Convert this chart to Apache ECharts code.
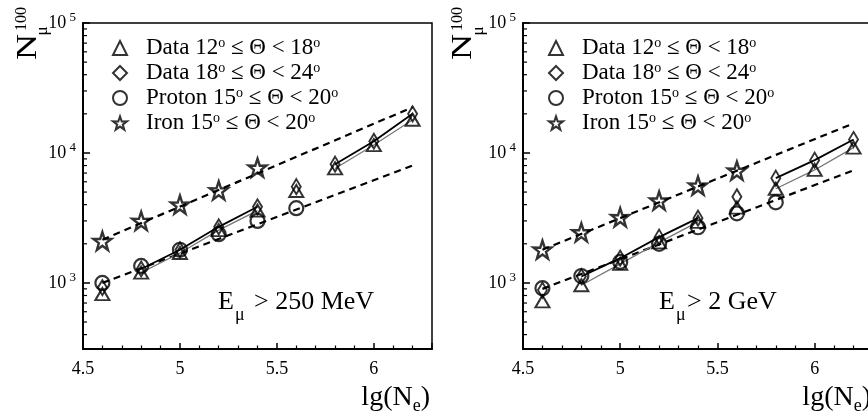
<!DOCTYPE html>
<html><head><meta charset="utf-8">
<script src="https://cdn.jsdelivr.net/npm/echarts@6/dist/echarts.min.js"></script>
<style>html,body{margin:0;padding:0;background:#fff}#c{width:868px;height:414px}</style>
</head><body><div id="c"></div>
<script>
// ---------- data ----------
const xValues = [4.6, 4.8, 5.0, 5.2, 5.4, 5.6, 5.8, 6.0, 6.2];
const lineSegments = [[4.8, 5.4], [5.8, 6.2]];
// Left panel: E_mu > 250 MeV
const data1218_L = [820, 1200, 1700, 2550, 3600, 5100, 7600, 11500, 18000];
const data1824_L = [920, 1280, 1800, 2700, 3850, 5500, 8200, 12300, 20000];
const protonX_L = [4.6, 4.8, 5.0, 5.2, 5.4, 5.6];
const proton_L = [1000, 1350, 1800, 2370, 3000, 3760];
const ironX_L = [4.6, 4.8, 5.0, 5.2, 5.4];
const iron_L = [2100, 3000, 4000, 5150, 7700];
const protonFitX_L = [4.6, 6.2], protonFit_L = [1000, 8000];
const ironFitX_L = [4.6, 6.2], ironFit_L = [2150, 22500];
// Right panel: E_mu > 2 GeV
const data1218_R = [720, 960, 1400, 2050, 2950, 3800, 5300, 7400, 11000];
const data1824_R = [880, 1120, 1550, 2250, 3150, 4600, 6400, 8800, 12700];
const protonX_R = [4.6, 4.8, 5.0, 5.2, 5.4, 5.6, 5.8];
const proton_R = [910, 1130, 1450, 2000, 2680, 3430, 4170];
const ironX_R = [4.6, 4.8, 5.0, 5.2, 5.4, 5.6];
const iron_R = [1800, 2450, 3200, 4300, 5600, 7300];
const protonFitX_R = [4.6, 6.2], protonFit_R = [900, 7350];
const ironFitX_R = [4.6, 6.2], ironFit_R = [1800, 16900];

const seriesNames = ['Data 12° ≤ Θ < 18°', 'Data 18° ≤ Θ < 24°', 'Proton 15° ≤ Θ < 20°', 'Iron 15° ≤ Θ < 20°'];
const xTickLabels = ['4.5', '5', '5.5', '6'];
const yMinorTicks = [400, 500, 600, 700, 800, 900, 2000, 3000, 4000, 5000, 6000, 7000, 8000, 9000,
  20000, 30000, 40000, 50000, 60000, 70000, 80000, 90000];
const energyLabels = ['> 250 MeV', '> 2 GeV'];

// ---------- chart ----------
const FONT = 'Liberation Serif';
const X_MIN = 4.5, X_MAX = 6.3, Y_MIN = 310, Y_MAX = 100000;
const STAR = 'path://M50,0 L61.8,35.1 L97.6,34.5 L68.7,56 L79.4,90.5 L50,69.5 L20.6,90.5 L31.3,56 L2.4,34.5 L38.2,35.1 Z';
const hollow = w => ({ color: 'rgba(255,255,255,0)', borderColor: '#000', borderWidth: w });

const panels = [
  { d1218: data1218_L, d1824: data1824_L, pX: protonX_L, p: proton_L, iX: ironX_L, ir: iron_L,
    pfX: protonFitX_L, pf: protonFit_L, ifX: ironFitX_L, iff: ironFit_L },
  { d1218: data1218_R, d1824: data1824_R, pX: protonX_R, p: proton_R, iX: ironX_R, ir: iron_R,
    pfX: protonFitX_R, pf: protonFit_R, ifX: ironFitX_R, iff: ironFit_R }
];
const inSeg = x => lineSegments.some(s => x >= s[0] - 1e-9 && x <= s[1] + 1e-9);
const pairs = (xs, ys) => xs.map((x, k) => [x, ys[k]]);
const segData = ys => xValues.map((x, k) => [x, inSeg(x) ? ys[k] : '-']);

const series = [];
panels.forEach((P, i) => {
  const ax = { xAxisIndex: i, yAxisIndex: i };
  [[P.pfX, P.pf], [P.ifX, P.iff]].forEach(([xs, ys]) => series.push(Object.assign({
    type: 'line', data: pairs(xs, ys), symbol: 'none', silent: true, z: 2,
    lineStyle: { color: '#000', width: 2.2, type: [7, 5] }
  }, ax)));
  series.push(Object.assign({ type: 'line', data: segData(P.d1218), symbol: 'none', silent: true, z: 3,
    connectNulls: false, lineStyle: { color: '#777', width: 1.3 } }, ax));
  series.push(Object.assign({ type: 'line', data: segData(P.d1824), symbol: 'none', silent: true, z: 3,
    connectNulls: false, lineStyle: { color: '#000', width: 1.8 } }, ax));
  series.push(Object.assign({ name: seriesNames[0], type: 'scatter', data: pairs(xValues, P.d1218),
    symbol: 'triangle', symbolSize: [14, 12], itemStyle: hollow(2), z: 4 }, ax));
  series.push(Object.assign({ name: seriesNames[1], type: 'scatter', data: pairs(xValues, P.d1824),
    symbol: 'diamond', symbolSize: [9, 15], itemStyle: hollow(2), z: 4 }, ax));
  series.push(Object.assign({ name: seriesNames[2], type: 'scatter', data: pairs(P.pX, P.p),
    symbol: 'circle', symbolSize: 14, itemStyle: hollow(2.2), z: 4 }, ax));
  series.push(Object.assign({ name: seriesNames[3], type: 'scatter', data: pairs(P.iX, P.ir),
    symbol: STAR, symbolSize: 18, itemStyle: hollow(2.4), z: 4 }, ax));
  series.push(Object.assign({ type: 'custom', silent: true, z: 5, data: yMinorTicks.map(v => [X_MIN, v]),
    renderItem: (p, api) => {
      const c = api.coord([api.value(0), api.value(1)]);
      return { type: 'line', shape: { x1: c[0], y1: c[1], x2: c[0] + 4, y2: c[1] },
        style: { stroke: '#000', lineWidth: 1.2 } };
    } }, ax));
});

const grids = [
  { left: 83, top: 23, width: 349, height: 326 },
  { left: 523, top: 23, width: 350, height: 326 }
];

const xAxes = grids.map((g, i) => ({
  type: 'value', gridIndex: i, min: X_MIN, max: X_MAX, interval: 0.5,
  axisLine: { lineStyle: { color: '#000', width: 2 } },
  axisTick: { inside: true, length: 6, lineStyle: { color: '#000', width: 1.5 } },
  minorTick: { show: true, splitNumber: 5, length: 3.5, lineStyle: { color: '#000', width: 1.2 } },
  splitLine: { show: false },
  axisLabel: { showMaxLabel: false, margin: 11, fontFamily: FONT, fontSize: 18, color: '#000',
    formatter: v => { const s = String(+v.toFixed(2)); return xTickLabels.includes(s) ? s : ''; } },
  name: '{a|lg(N}{b|e}{a|)}', nameLocation: 'end', nameGap: -2,
  nameTextStyle: { align: 'right', verticalAlign: 'top', padding: [32, 0, 0, 0],
    rich: { a: { fontFamily: FONT, fontSize: 28, color: '#000' },
            b: { fontFamily: FONT, fontSize: 18, color: '#000', padding: [16, 0, 0, 0] } } }
}));

const yAxes = grids.map((g, i) => ({
  type: 'log', logBase: 10, gridIndex: i, min: Y_MIN, max: Y_MAX,
  axisLine: { lineStyle: { color: '#000', width: 2 } },
  axisTick: { inside: true, length: 7, lineStyle: { color: '#000', width: 1.5 } },
  splitLine: { show: false },
  axisLabel: { showMinLabel: false, margin: 7, color: '#000', fontFamily: FONT, fontSize: 18,
    formatter: v => { const e = Math.log10(v); return Math.abs(e - Math.round(e)) < 1e-6 ? '{b|10}{s| ' + Math.round(e) + '}' : ''; },
    rich: { b: { fontFamily: FONT, fontSize: 18, color: '#000' }, s: { fontFamily: FONT, fontSize: 13, color: '#000', verticalAlign: 'top', padding: [0, 0, 10, 0] } } }
}));

const legendFormatter = n => '{g|}{t|' + n.replace(/°/g, '}{s|o}{t|') + '}';
const legends = [107, 543].map(left => ({
  orient: 'vertical', left: left, top: 31, itemWidth: 14, itemHeight: 14, itemGap: 1,
  selectedMode: false, data: seriesNames.slice(), formatter: legendFormatter,
  textStyle: { fontFamily: FONT, fontSize: 23, color: '#000', lineHeight: 24,
    rich: { g: { width: 14 }, t: { fontFamily: FONT, fontSize: 23, color: '#000' },
            s: { fontFamily: FONT, fontSize: 14, color: '#000', verticalAlign: 'top', padding: [0, 0, 9, 0] } } }
}));

const graphics = [];
[0, 435.5].forEach(dx => {
  graphics.push({ type: 'text', x: 28 + dx, y: 47, rotation: Math.PI / 2, scaleX: 1.2,
    style: { text: 'N', font: '30px "' + FONT + '"', fill: '#000', align: 'center', verticalAlign: 'middle' } });
  graphics.push({ type: 'text', x: 22 + dx, y: 19, rotation: Math.PI / 2,
    style: { text: '100', font: '16px "' + FONT + '"', fill: '#000', align: 'center', verticalAlign: 'middle' } });
  graphics.push({ type: 'text', x: 43 + dx, y: 31, rotation: Math.PI / 2,
    style: { text: 'μ', font: '17px "' + FONT + '"', fill: '#000', align: 'center', verticalAlign: 'middle' } });
});
[[218, 235, 254], [659, 676, 687]].forEach((p, i) => {
  graphics.push({ type: 'text', x: p[0], y: 302, style: { text: 'E', font: '26px "' + FONT + '"', fill: '#000', align: 'left', verticalAlign: 'middle' } });
  graphics.push({ type: 'text', x: p[1], y: 315, style: { text: 'μ', font: '18px "' + FONT + '"', fill: '#000', align: 'left', verticalAlign: 'middle' } });
  graphics.push({ type: 'text', x: p[2], y: 302, style: { text: energyLabels[i], font: '26px "' + FONT + '"', fill: '#000', align: 'left', verticalAlign: 'middle' } });
});

const chart = echarts.init(document.getElementById('c'), null, { renderer: 'canvas' });
chart.setOption({
  animation: false,
  backgroundColor: '#fff',
  grid: grids.map(g => Object.assign({ show: true, borderColor: '#000', borderWidth: 1.5,
    backgroundColor: 'transparent', containLabel: false, outerBoundsMode: 'none' }, g)),
  xAxis: xAxes,
  yAxis: yAxes,
  legend: legends,
  series: series,
  graphic: graphics
});
</script></body></html>
